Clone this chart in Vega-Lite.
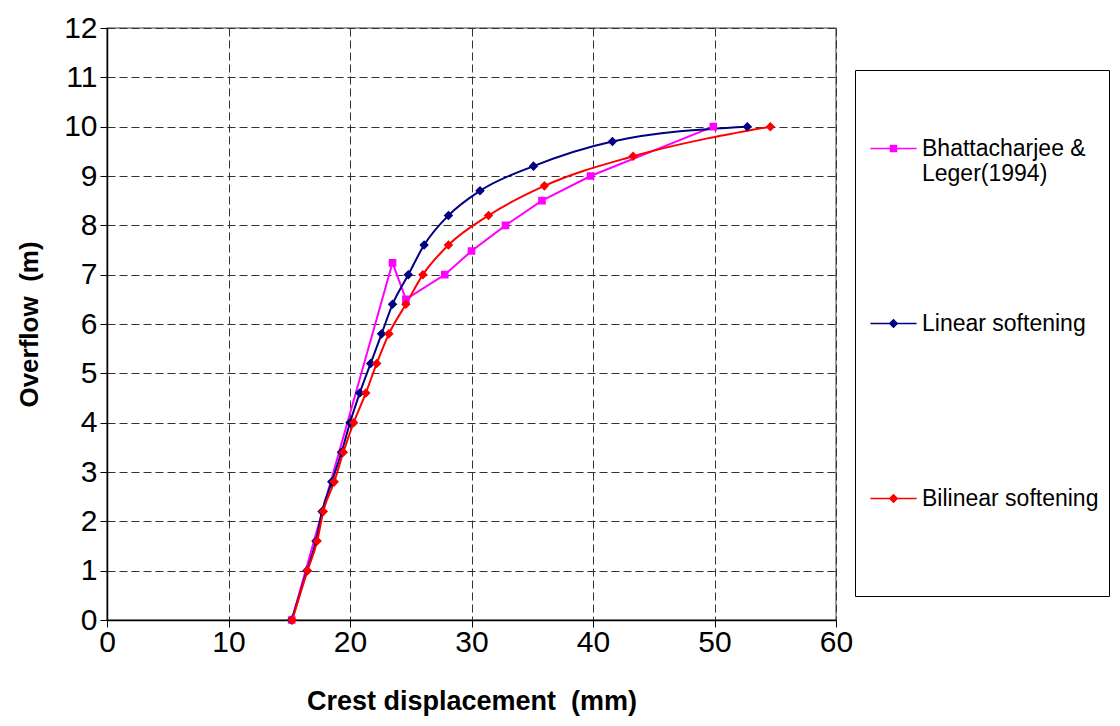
{
  "$schema": "https://vega.github.io/schema/vega-lite/v6.json",
  "width": 729,
  "height": 592,
  "autosize": {"type": "none"},
  "padding": {"left": 107, "top": 28, "right": 284, "bottom": 106},
  "background": "white",
  "config": {
    "font": "Liberation Sans",
    "view": {"stroke": "#808080", "strokeWidth": 1.5},
    "axis": {
      "labelFont": "Liberation Sans",
      "titleFont": "Liberation Sans",
      "labelColor": "#000",
      "titleColor": "#000",
      "domainColor": "#000",
      "domainWidth": 1.5,
      "tickColor": "#000",
      "tickWidth": 1,
      "tickSize": 7,
      "gridColor": "#333",
      "gridDash": [8, 4],
      "gridWidth": 1,
      "gridOpacity": 1,
      "labelFlush": false,
      "labelOverlap": false
    },
    "legend": {
      "strokeColor": "#000",
      "fillColor": "white",
      "padding": 10,
      "labelFont": "Liberation Sans",
      "labelFontSize": 23,
      "labelColor": "#000",
      "labelLimit": 300,
      "labelBaseline": "middle",
      "symbolSize": 36,
      "symbolOffset": 17,
      "labelOffset": 17,
      "rowPadding": 76,
      "gridAlign": "all"
    }
  },
  "data": {
    "values": [
      {"series": "Bhattacharjee & Leger(1994)", "disp": 15.2, "overflow": 0},
      {"series": "Bhattacharjee & Leger(1994)", "disp": 23.5, "overflow": 7.24},
      {"series": "Bhattacharjee & Leger(1994)", "disp": 24.6, "overflow": 6.5},
      {"series": "Bhattacharjee & Leger(1994)", "disp": 27.8, "overflow": 7.0},
      {"series": "Bhattacharjee & Leger(1994)", "disp": 30.0, "overflow": 7.48},
      {"series": "Bhattacharjee & Leger(1994)", "disp": 32.8, "overflow": 8.0},
      {"series": "Bhattacharjee & Leger(1994)", "disp": 35.8, "overflow": 8.5},
      {"series": "Bhattacharjee & Leger(1994)", "disp": 39.8, "overflow": 9.0},
      {"series": "Bhattacharjee & Leger(1994)", "disp": 49.9, "overflow": 10.0},
      {"series": "Linear softening", "disp": 15.2, "overflow": 0},
      {"series": "Linear softening", "disp": 16.45, "overflow": 1.0},
      {"series": "Linear softening", "disp": 17.2, "overflow": 1.6},
      {"series": "Linear softening", "disp": 17.7, "overflow": 2.2},
      {"series": "Linear softening", "disp": 18.5, "overflow": 2.8},
      {"series": "Linear softening", "disp": 19.3, "overflow": 3.4},
      {"series": "Linear softening", "disp": 20.0, "overflow": 4.0},
      {"series": "Linear softening", "disp": 20.8, "overflow": 4.6},
      {"series": "Linear softening", "disp": 21.7, "overflow": 5.2},
      {"series": "Linear softening", "disp": 22.6, "overflow": 5.8},
      {"series": "Linear softening", "disp": 23.5, "overflow": 6.4},
      {"series": "Linear softening", "disp": 24.8, "overflow": 7.0},
      {"series": "Linear softening", "disp": 26.1, "overflow": 7.6},
      {"series": "Linear softening", "disp": 28.1, "overflow": 8.2},
      {"series": "Linear softening", "disp": 30.7, "overflow": 8.7},
      {"series": "Linear softening", "disp": 35.1, "overflow": 9.2},
      {"series": "Linear softening", "disp": 41.6, "overflow": 9.7},
      {"series": "Linear softening", "disp": 52.7, "overflow": 10.0},
      {"series": "Bilinear softening", "disp": 15.25, "overflow": 0},
      {"series": "Bilinear softening", "disp": 16.5, "overflow": 1.0},
      {"series": "Bilinear softening", "disp": 17.3, "overflow": 1.6},
      {"series": "Bilinear softening", "disp": 17.8, "overflow": 2.2},
      {"series": "Bilinear softening", "disp": 18.7, "overflow": 2.8},
      {"series": "Bilinear softening", "disp": 19.45, "overflow": 3.4},
      {"series": "Bilinear softening", "disp": 20.3, "overflow": 4.0},
      {"series": "Bilinear softening", "disp": 21.3, "overflow": 4.6},
      {"series": "Bilinear softening", "disp": 22.2, "overflow": 5.2},
      {"series": "Bilinear softening", "disp": 23.2, "overflow": 5.8},
      {"series": "Bilinear softening", "disp": 24.6, "overflow": 6.4},
      {"series": "Bilinear softening", "disp": 26.0, "overflow": 7.0},
      {"series": "Bilinear softening", "disp": 28.1, "overflow": 7.6},
      {"series": "Bilinear softening", "disp": 31.4, "overflow": 8.2},
      {"series": "Bilinear softening", "disp": 36.0, "overflow": 8.8},
      {"series": "Bilinear softening", "disp": 43.3, "overflow": 9.4},
      {"series": "Bilinear softening", "disp": 54.6, "overflow": 10.0}
    ]
  },
  "encoding": {
    "x": {
      "field": "disp",
      "type": "quantitative",
      "scale": {"domain": [0, 60], "nice": false, "zero": false},
      "axis": {
        "values": [0, 10, 20, 30, 40, 50, 60],
        "title": "Crest displacement \u00a0(mm)",
        "labelFontSize": 30,
        "titleFontSize": 27,
        "titleFontWeight": "bold",
        "labelPadding": 0,
        "titlePadding": 31,
        "grid": true
      }
    },
    "y": {
      "field": "overflow",
      "type": "quantitative",
      "scale": {"domain": [0, 12], "nice": false, "zero": false},
      "axis": {
        "values": [0, 1, 2, 3, 4, 5, 6, 7, 8, 9, 10, 11, 12],
        "title": "Overflow \u00a0(m)",
        "labelFontSize": 30,
        "titleFontSize": 26,
        "titleFontWeight": "bold",
        "labelPadding": 3,
        "titlePadding": 21,
        "grid": true
      }
    }
  },
  "layer": [
    {
      "transform": [{"filter": "datum.series == 'Bhattacharjee & Leger(1994)'"}],
      "mark": {"type": "line", "interpolate": "linear", "strokeWidth": 2},
      "encoding": {
        "color": {
          "field": "series",
          "type": "nominal",
          "scale": {
            "domain": ["Bilinear softening", "Linear softening", "Bhattacharjee & Leger(1994)"],
            "range": ["#FF0000", "#000080", "#FF00FF"]
          },
          "legend": null
        }
      }
    },
    {
      "transform": [{"filter": "datum.series != 'Bhattacharjee & Leger(1994)'"}],
      "mark": {"type": "line", "interpolate": "monotone", "strokeWidth": 2},
      "encoding": {
        "color": {
          "field": "series",
          "type": "nominal",
          "scale": {
            "domain": ["Bilinear softening", "Linear softening", "Bhattacharjee & Leger(1994)"],
            "range": ["#FF0000", "#000080", "#FF00FF"]
          },
          "legend": null
        }
      }
    },
    {
      "mark": {"type": "point", "filled": true, "strokeWidth": 0, "size": 58, "opacity": 1},
      "encoding": {
        "fill": {
          "field": "series",
          "type": "nominal",
          "scale": {
            "domain": ["Bhattacharjee & Leger(1994)", "Linear softening", "Bilinear softening"],
            "range": ["#FF00FF", "#000080", "#FF0000"]
          },
          "legend": {
            "orient": "none",
            "legendX": 748,
            "legendY": 42,
            "title": " ",
            "titleFontSize": 2,
            "titlePadding": 55,
            "labelExpr": "datum.label == 'Bhattacharjee & Leger(1994)' ? ['Bhattacharjee &', 'Leger(1994)'] : datum.label == 'Bilinear softening' ? ['Bilinear softening', '', '', ''] : datum.label",
            "encode": {
              "labels": {"update": {"lineHeight": {"value": 28}}},
              "symbols": {"update": {"strokeWidth": {"value": 1.5}}}
            }
          }
        },
        "stroke": {
          "field": "series",
          "type": "nominal",
          "scale": {
            "domain": ["Bhattacharjee & Leger(1994)", "Linear softening", "Bilinear softening"],
            "range": ["#FF00FF", "#000080", "#FF0000"]
          },
          "legend": {
            "orient": "none",
            "legendX": 748,
            "legendY": 42,
            "title": " ",
            "titleFontSize": 2,
            "titlePadding": 55,
            "labelExpr": "datum.label == 'Bhattacharjee & Leger(1994)' ? ['Bhattacharjee &', 'Leger(1994)'] : datum.label == 'Bilinear softening' ? ['Bilinear softening', '', '', ''] : datum.label",
            "encode": {
              "labels": {"update": {"lineHeight": {"value": 28}}},
              "symbols": {"update": {"strokeWidth": {"value": 1.5}}}
            }
          }
        },
        "shape": {
          "field": "series",
          "type": "nominal",
          "scale": {
            "domain": ["Bhattacharjee & Leger(1994)", "Linear softening", "Bilinear softening"],
            "range": [
              "M-7.7,0L7.7,0M-1,-1L1,-1L1,1L-1,1Z",
              "M-7.7,0L7.7,0M0,-1.25L1.25,0L0,1.25L-1.25,0Z",
              "M-7.7,0L7.7,0M0,-1.25L1.25,0L0,1.25L-1.25,0Z"
            ]
          },
          "legend": {
            "orient": "none",
            "legendX": 748,
            "legendY": 42,
            "title": " ",
            "titleFontSize": 2,
            "titlePadding": 55,
            "labelExpr": "datum.label == 'Bhattacharjee & Leger(1994)' ? ['Bhattacharjee &', 'Leger(1994)'] : datum.label == 'Bilinear softening' ? ['Bilinear softening', '', '', ''] : datum.label",
            "encode": {
              "labels": {"update": {"lineHeight": {"value": 28}}},
              "symbols": {"update": {"strokeWidth": {"value": 1.5}}}
            }
          }
        }
      }
    }
  ]
}
